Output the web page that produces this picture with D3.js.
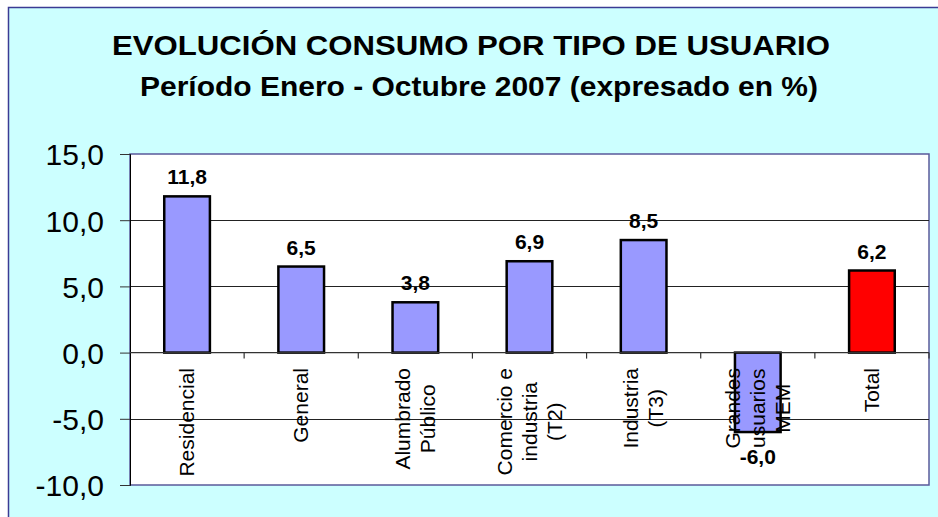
<!DOCTYPE html>
<html>
<head>
<meta charset="utf-8">
<script src="https://cdn.jsdelivr.net/npm/d3@7"></script>
<style>
  body { margin: 0; background: #fff; }
  text { font-family: Arial, "Liberation Sans", sans-serif; }
</style>
</head>
<body>
<div id="chart"></div>
<script>
// data
var categories = ["Residencial", "General", "Alumbrado Público", "Comercio e industria (T2)", "Industria (T3)", "Grandes usuarios MEM", "Total"];
var categoryLines = [["Residencial"], ["General"], ["Alumbrado", "Público"], ["Comercio e", "industria", "(T2)"], ["Industria", "(T3)"], ["Grandes", "usuarios", "MEM"], ["Total"]];
var values = [11.8, 6.5, 3.8, 6.9, 8.5, -6.0, 6.2];
var yTicks = [-10, -5, 0, 5, 10, 15];

var svgWidth = 938;
var svgHeight = 517;

var margin = { top: 154, right: 9, bottom: 32, left: 130 };
var width = svgWidth - margin.left - margin.right;
var height = svgHeight - margin.top - margin.bottom;

var svg = d3.select("#chart")
  .append("svg")
  .attr("width", svgWidth)
  .attr("height", svgHeight);

// chart area background + border
svg.append("rect")
  .attr("x", 8.5)
  .attr("y", 7.5)
  .attr("width", svgWidth)
  .attr("height", svgHeight)
  .attr("fill", "#ccffff")
  .attr("stroke", "#3b3b94")
  .attr("stroke-width", 1.5);

// titles (the original font is a bit wider, so stretch to its width)
svg.append("text")
  .attr("x", 112)
  .attr("y", 55)
  .attr("font-size", "28px")
  .attr("font-weight", "bold")
  .attr("textLength", 718)
  .attr("lengthAdjust", "spacingAndGlyphs")
  .text("EVOLUCIÓN CONSUMO POR TIPO DE USUARIO");

svg.append("text")
  .attr("x", 140)
  .attr("y", 96)
  .attr("font-size", "27px")
  .attr("font-weight", "bold")
  .attr("textLength", 678)
  .attr("lengthAdjust", "spacingAndGlyphs")
  .text("Período Enero - Octubre 2007 (expresado en %)");

var chartGroup = svg.append("g")
  .attr("transform", `translate(${margin.left}, ${margin.top})`);

// scales
var xScale = d3.scaleBand()
  .domain(categories)
  .range([0, width])
  .paddingInner(0.6)
  .paddingOuter(0.3);

var yScale = d3.scaleLinear()
  .domain([-10, 15])
  .range([height, 0]);

// plot area
chartGroup.append("rect")
  .attr("width", width)
  .attr("height", height)
  .attr("fill", "#fff")
  .attr("stroke", "#5a5a9a")
  .attr("stroke-width", 1.5);

// gridlines
chartGroup.append("g")
  .selectAll("line")
  .data(yTicks.filter(d => d !== 0 && d !== 15 && d !== -10))
  .enter()
  .append("line")
  .attr("x1", 0)
  .attr("x2", width)
  .attr("y1", d => Math.round(yScale(d)) + 0.5)
  .attr("y2", d => Math.round(yScale(d)) + 0.5)
  .attr("stroke", "#222")
  .attr("stroke-width", 1);

// y axis
var leftAxis = d3.axisLeft(yScale)
  .tickValues(yTicks)
  .tickSize(10)
  .tickPadding(16)
  .tickFormat(d => d3.format(".1f")(d).replace(".", ",").replace("−", "-"));

var yAxisG = chartGroup.append("g").call(leftAxis);
yAxisG.select(".domain").attr("stroke", "#000").attr("stroke-width", 1);
yAxisG.selectAll(".tick line").attr("stroke", "#333");
yAxisG.selectAll(".tick text")
  .attr("font-size", "30px")
  .attr("font-family", "Arial, 'Liberation Sans', sans-serif")
  .attr("fill", "#000")
  .attr("dy", "0.36em");

// bars
chartGroup.append("g")
  .selectAll("rect")
  .data(values)
  .enter()
  .append("rect")
  .attr("x", (d, i) => xScale(categories[i]))
  .attr("y", d => yScale(Math.max(0, d)))
  .attr("width", xScale.bandwidth())
  .attr("height", d => Math.abs(yScale(d) - yScale(0)))
  .attr("fill", (d, i) => i === values.length - 1 ? "#ff0000" : "#9999ff")
  .attr("stroke", "#000")
  .attr("stroke-width", 2.5);

// category axis (zero line) with ticks between categories
var zeroY = yScale(0);
chartGroup.append("line")
  .attr("x1", 0)
  .attr("x2", width)
  .attr("y1", zeroY)
  .attr("y2", zeroY)
  .attr("stroke", "#333")
  .attr("stroke-width", 1.2);

var step = xScale.step();
chartGroup.append("g")
  .selectAll("line")
  .data(d3.range(1, categories.length + 1))
  .enter()
  .append("line")
  .attr("x1", d => d * step)
  .attr("x2", d => d * step)
  .attr("y1", zeroY)
  .attr("y2", zeroY + 6)
  .attr("stroke", "#333")
  .attr("stroke-width", 1.2);

// value labels
chartGroup.append("g")
  .selectAll("text")
  .data(values)
  .enter()
  .append("text")
  .attr("x", (d, i) => xScale(categories[i]) + xScale.bandwidth() / 2)
  .attr("y", d => d >= 0 ? yScale(d) - 12 : yScale(d) + 32)
  .attr("text-anchor", "middle")
  .attr("font-size", "21px")
  .attr("font-weight", "bold")
  .text(d => d3.format(".1f")(d).replace(".", ",").replace("−", "-"));

// category labels, rotated
var lineGap = 25;
var labelTop = 368 - margin.top;
categoryLines.forEach(function(lines, i) {
  var cx = xScale(categories[i]) + xScale.bandwidth() / 2;
  var g = chartGroup.append("g");
  var texts = lines.map(function(line, j) {
    return g.append("text")
      .attr("text-anchor", "middle")
      .attr("font-size", "21px")
      .attr("fill", "#000")
      .text(line);
  });
  var maxLen = d3.max(texts, t => t.node().getComputedTextLength());
  var n = lines.length;
  texts.forEach(function(t, j) {
    var bx = cx + (j - (n - 1) / 2) * lineGap + 7;
    var by = labelTop + maxLen / 2;
    t.attr("transform", `translate(${bx}, ${by}) rotate(-90)`);
  });
});
</script>
</body>
</html>
